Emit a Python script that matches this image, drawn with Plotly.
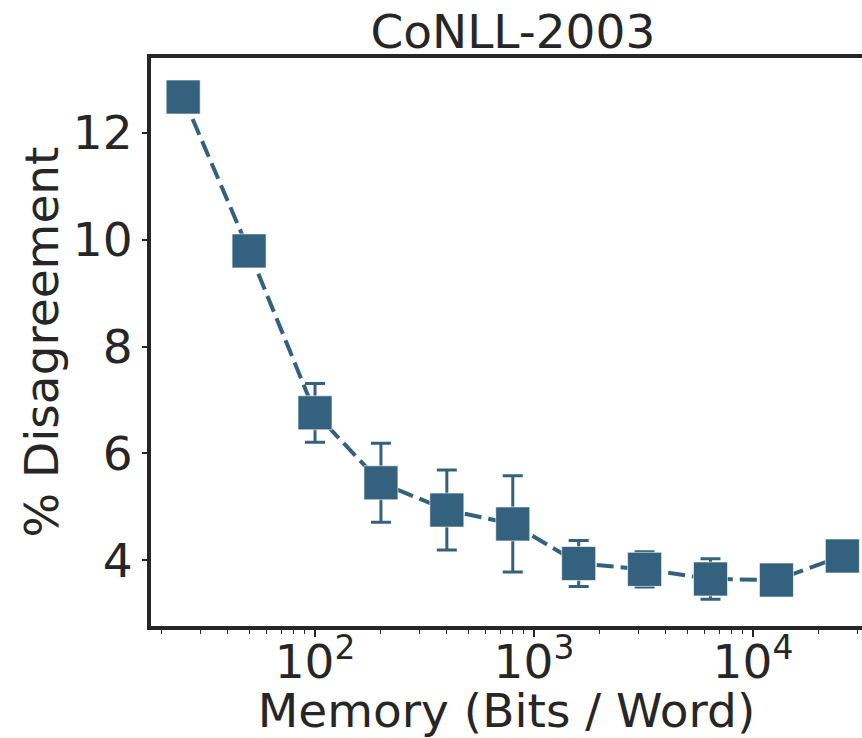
import plotly.graph_objects as go

# Memory budget (bits per word) and disagreement rate with std-dev error bars
memory_bits = [25, 50, 100, 200, 400, 800, 1600, 3200, 6400, 12800, 25600]
disagreement = [12.67, 9.79, 6.76, 5.45, 4.94, 4.68, 3.94, 3.83, 3.65, 3.63, 4.08]
disagreement_err = [0.0, 0.0, 0.55, 0.74, 0.75, 0.90, 0.43, 0.33, 0.38, 0.0, 0.0]

x_tickvals = [100, 1000, 10000]
x_ticktext = ["10<sup>2</sup>", "10<sup>3</sup>", "10<sup>4</sup>"]
y_tickvals = [4, 6, 8, 10, 12]

minor_vals = [m * 10 ** e for e in range(1, 5) for m in range(2, 10)]

color = "#34627e"
ink = "#262626"
font_family = "DejaVu Sans"
fs = 47

fig = go.Figure(
    go.Scatter(
        x=memory_bits,
        y=disagreement,
        mode="lines+markers",
        line=dict(color=color, width=4, dash="17px,7px"),
        marker=dict(symbol="square", size=34, color=color,
                    line=dict(color="rgba(255,255,255,0.6)", width=1)),
        error_y=dict(type="data", array=disagreement_err, visible=True,
                     color=color, thickness=3, width=10),
        cliponaxis=False,
        showlegend=False,
    )
)

fig.update_layout(
    width=862,
    height=738,
    margin=dict(l=151, r=0, t=58, b=112),
    paper_bgcolor="white",
    plot_bgcolor="white",
    font=dict(family=font_family, color=ink, size=fs),
    title=dict(text="CoNLL-2003", x=0.595, xanchor="center",
               y=0.98, yanchor="top", font=dict(size=47, color=ink)),
)

fig.update_xaxes(
    type="log",
    range=[1.251, 4.498],
    tickvals=x_tickvals,
    ticktext=x_ticktext,
    ticks="outside",
    ticklen=7,
    tickwidth=1.5,
    tickcolor=ink,
    ticklabelstandoff=-15,
    minor=dict(tickvals=minor_vals, ticks="outside", ticklen=4,
               tickwidth=1.2, tickcolor=ink, showgrid=False),
    showgrid=False,
    zeroline=False,
    showline=True,
    linecolor=ink,
    linewidth=4,
    mirror=True,
    tickfont=dict(size=fs, color=ink),
    title=dict(text="Memory (Bits / Word)", font=dict(size=fs, color=ink),
               standoff=4),
)

fig.update_yaxes(
    range=[2.77, 13.4],
    tickvals=y_tickvals,
    ticks="outside",
    ticklen=5,
    tickwidth=1.5,
    tickcolor=ink,
    ticklabelstandoff=0,
    showgrid=False,
    zeroline=False,
    showline=True,
    linecolor=ink,
    linewidth=4,
    tickfont=dict(size=fs, color=ink),
    title=dict(text="% Disagreement", font=dict(size=fs, color=ink),
               standoff=0),
)

fig.write_html("out.html")
